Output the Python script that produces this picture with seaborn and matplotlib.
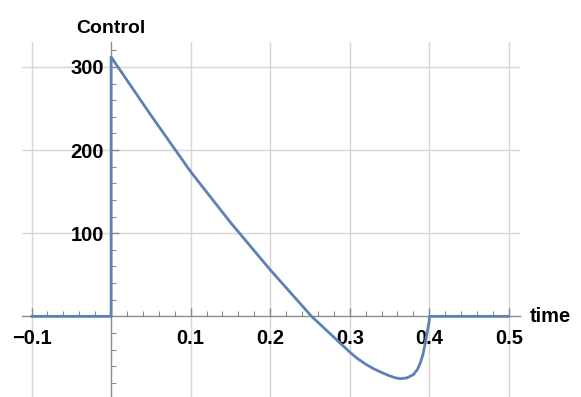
import numpy as np
import pandas as pd
import matplotlib
matplotlib.use('Agg')
import matplotlib.pyplot as plt
import seaborn as sns

# values (bang-zero control profile)
time = [-0.1, 0.0, 0.0, 0.05, 0.1, 0.15, 0.2, 0.252, 0.2755, 0.3,
        0.31, 0.32, 0.33, 0.34, 0.35, 0.357, 0.3635, 0.372, 0.38,
        0.385, 0.3887, 0.392, 0.395, 0.3975, 0.4, 0.4, 0.5]
control = [0, 0, 312, 242, 174, 113, 56, 0, -21, -43,
           -51, -57.5, -63, -67.5, -71.5, -73.8, -75, -74, -70,
           -64, -56, -46, -32, -18, -5, 0, 0]

x_ticks = [-0.1, 0.1, 0.2, 0.3, 0.4, 0.5]
x_labels = ['\u22120.1', '0.1', '0.2', '0.3', '0.4', '0.5']
y_ticks = [100, 200, 300]
y_labels = ['100', '200', '300']

sns.set_style('white')
plt.rcParams['font.family'] = ['Liberation Sans', 'DejaVu Sans']
plt.rcParams['font.weight'] = 'bold'
plt.rcParams['text.color'] = 'black'
plt.rcParams['xtick.color'] = 'black'
plt.rcParams['ytick.color'] = 'black'

df = pd.DataFrame({'time': time, 'control': control})

fig = plt.figure(figsize=(5.81, 3.97), dpi=100)
ax = fig.add_axes([22 / 581, 0.0, (520 - 22) / 581, (397 - 42) / 397])

# grid
for xv in x_ticks:
    ax.axvline(xv, color='#d6d6d6', lw=1.0, zorder=0)
for yv in y_ticks:
    ax.axhline(yv, color='#d6d6d6', lw=1.0, zorder=0)

sns.lineplot(data=df, x='time', y='control', sort=False, estimator=None,
             color='#5E81B5', lw=2.0, ax=ax, zorder=3)

ax.set_xlim(-0.112, 0.514)
ax.set_ylim(-97, 330)

for side in ['top', 'right']:
    ax.spines[side].set_visible(False)
ax.spines['left'].set_position(('data', 0))
ax.spines['bottom'].set_position(('data', 0))
for side in ['left', 'bottom']:
    ax.spines[side].set_color('#8c8c8c')
    ax.spines[side].set_linewidth(1.0)
    ax.spines[side].set_zorder(2)

ax.set_xticks(x_ticks)
ax.set_xticklabels(x_labels)
ax.set_yticks(y_ticks)
ax.set_yticklabels(y_labels)
ax.set_xticks(np.arange(-0.1, 0.5001, 0.02), minor=True)
ax.set_yticks(np.arange(-80, 321, 20), minor=True)

ax.tick_params(axis='x', which='both', bottom=True, top=False)
ax.tick_params(axis='y', which='both', left=True, right=False)
ax.tick_params(axis='x', which='major', direction='in', length=6, width=1,
               color='#8c8c8c', labelcolor='black', labelsize=14.5, pad=9)
ax.tick_params(axis='x', which='minor', direction='in', length=3.5, width=0.8,
               color='#8c8c8c')
ax.tick_params(axis='y', which='major', direction='in', length=6, width=1,
               color='#8c8c8c', labelcolor='black', labelsize=14.5, pad=5)
ax.tick_params(axis='y', which='minor', direction='in', length=3.5, width=0.8,
               color='#8c8c8c')
for lab in ax.get_xticklabels() + ax.get_yticklabels():
    lab.set_fontweight('bold')

ax.set_xlabel('')
ax.set_ylabel('')
ax.text(0.0, 336, 'Control', ha='center', va='bottom', fontsize=14,
        fontweight='bold', color='black', clip_on=False)
ax.text(0.526, 0, 'time', ha='left', va='center', fontsize=14.5,
        fontweight='bold', color='black', clip_on=False)

fig.savefig('out.png', dpi=100)
